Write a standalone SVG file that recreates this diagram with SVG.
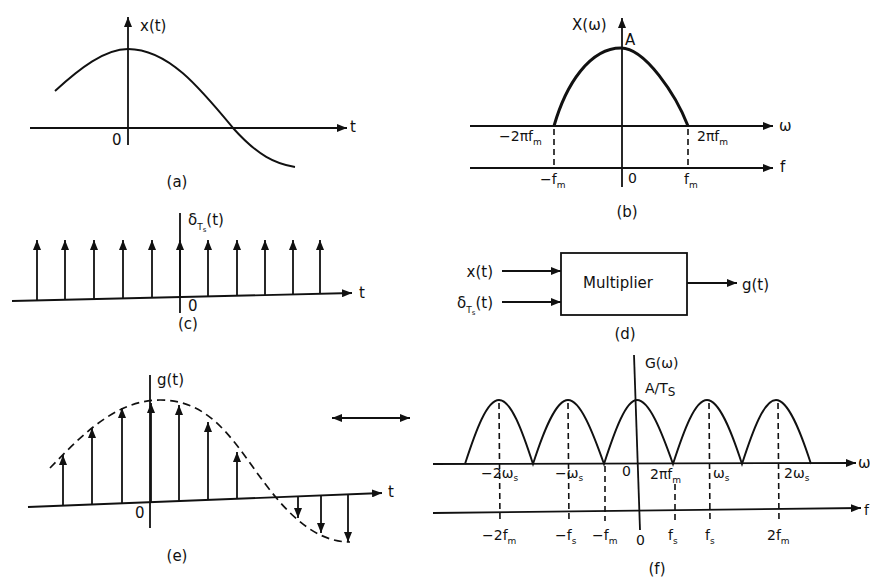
<svg xmlns="http://www.w3.org/2000/svg" width="870" height="577" viewBox="0 0 870 577">
<style>
text{font-family:"DejaVu Sans","Liberation Sans",sans-serif;font-size:15px;fill:#111}
.sm{font-size:14px}
.sub{font-size:9px}
.ax{stroke:#111;stroke-width:1.8;fill:none}
.arw{stroke:#111;stroke-width:1.8;fill:none;marker-end:url(#ah)}
.cv{stroke:#111;stroke-width:1.9;fill:none}
.dash{stroke:#111;stroke-width:1.6;fill:none;stroke-dasharray:6,4}
.dash2{stroke:#111;stroke-width:1.7;fill:none;stroke-dasharray:8,5}
.mid{text-anchor:middle}
.end{text-anchor:end}
</style>
<defs>
<marker id="ah" viewBox="0 0 10 8" refX="10" refY="4" markerWidth="10" markerHeight="8" markerUnits="userSpaceOnUse" orient="auto-start-reverse">
<path d="M0,0 L10,4 L0,8 z" fill="#111"/>
</marker>
</defs>
<rect width="870" height="577" fill="#fff"/>

<!-- (a) -->
<g id="panel-a">
<line class="arw" x1="30" y1="128" x2="347" y2="128"/>
<line class="arw" x1="128" y1="145" x2="128" y2="17"/>
<path class="cv" d="M55,91 C80,68 105,49 128,49 C168,49 200,88 233,128 C258,156 276,164 295,167"/>
<text x="140" y="31">x(t)</text>
<text x="350" y="132">t</text>
<text x="112" y="145">0</text>
<text class="mid" x="177" y="187">(a)</text>
</g>

<!-- (b) -->
<g id="panel-b">
<line class="arw" x1="470" y1="126" x2="773" y2="126"/>
<line class="arw" x1="470" y1="168" x2="773" y2="168"/>
<line class="arw" x1="622" y1="187" x2="622" y2="18"/>
<path d="M554,126 C566,84 590,48 621,48 C645,48 676,95 688,126" stroke="#111" stroke-width="3" fill="none"/>
<line class="dash" x1="554" y1="129" x2="554" y2="168"/>
<line class="dash" x1="688" y1="129" x2="688" y2="168"/>
<text x="572" y="30">X(ω)</text>
<text x="625" y="45">A</text>
<text x="779" y="131">ω</text>
<text x="780" y="172">f</text>
<text class="sm" x="499" y="141">−2πf<tspan class="sub" dy="4">m</tspan></text>
<text class="sm" x="697" y="141">2πf<tspan class="sub" dy="4">m</tspan></text>
<text class="sm" x="540" y="184">−f<tspan class="sub" dy="4">m</tspan></text>
<text class="sm" x="628" y="183">0</text>
<text class="sm" x="684" y="184">f<tspan class="sub" dy="4">m</tspan></text>
<text class="mid" x="627" y="217">(b)</text>
</g>

<!-- (c) -->
<g id="panel-c">
<line class="arw" x1="12" y1="301" x2="352" y2="293"/>
<line class="ax" x1="180" y1="213" x2="180" y2="313"/>
<line class="arw" x1="37" y1="300.4" x2="37" y2="240"/>
<line class="arw" x1="65" y1="299.8" x2="65" y2="240"/>
<line class="arw" x1="94" y1="299.1" x2="94" y2="240"/>
<line class="arw" x1="123" y1="298.4" x2="123" y2="240"/>
<line class="arw" x1="152" y1="297.7" x2="152" y2="240"/>
<line class="arw" x1="180" y1="297" x2="180" y2="240"/>
<line class="arw" x1="208" y1="296.4" x2="208" y2="240"/>
<line class="arw" x1="237" y1="295.7" x2="237" y2="240"/>
<line class="arw" x1="265" y1="295" x2="265" y2="240"/>
<line class="arw" x1="293" y1="294.4" x2="293" y2="240"/>
<line class="arw" x1="320" y1="293.8" x2="320" y2="240"/>
<text x="188" y="225">δ<tspan class="sub" dy="5">T</tspan><tspan font-size="7" dy="2">s</tspan><tspan dy="-7">(t)</tspan></text>
<text x="188" y="311">0</text>
<text x="359" y="298">t</text>
<text class="mid" x="188" y="329">(c)</text>
</g>

<!-- (d) -->
<g id="multiplier">
<rect x="561" y="253" width="126" height="62" fill="#fff" stroke="#111" stroke-width="1.8"/>
<text class="mid" x="618" y="288">Multiplier</text>
</g>
<g id="in-x">
<text class="end" x="493" y="277">x(t)</text>
</g>
<g id="in-delta">
<text class="end" x="493" y="308">δ<tspan class="sub" dy="5">T</tspan><tspan font-size="7" dy="2">s</tspan><tspan dy="-7">(t)</tspan></text>
</g>
<g id="out-g">
<text x="742" y="290">g(t)</text>
</g>
<g id="connectors">
<line class="arw" x1="502" y1="271" x2="561" y2="271"/>
<line class="arw" x1="502" y1="302" x2="561" y2="302"/>
<line class="arw" x1="687" y1="283" x2="737" y2="283"/>
</g>
<text class="mid" x="625" y="339">(d)</text>

<!-- (e) -->
<g id="panel-e">
<line class="arw" x1="28" y1="507" x2="382" y2="493"/>
<line class="ax" x1="150" y1="375" x2="150" y2="528"/>
<path class="dash2" d="M50,468 C80,437 115,400 160,400 C205,400 228,432 255,470 C280,505 310,542 350,542"/>
<line class="arw" x1="63" y1="505.6" x2="63" y2="455"/>
<line class="arw" x1="92" y1="504.5" x2="92" y2="428"/>
<line class="arw" x1="122" y1="503.3" x2="122" y2="408"/>
<line class="arw" x1="151" y1="502.1" x2="151" y2="403"/>
<line class="arw" x1="179" y1="501" x2="179" y2="405"/>
<line class="arw" x1="208" y1="499.9" x2="208" y2="422"/>
<line class="arw" x1="237" y1="498.7" x2="237" y2="452"/>
<line class="arw" x1="298" y1="496.3" x2="298" y2="518"/>
<line class="arw" x1="321" y1="495.4" x2="321" y2="533"/>
<line class="arw" x1="348" y1="494.4" x2="348" y2="542"/>
<text x="157" y="385">g(t)</text>
<text x="135" y="518">0</text>
<text x="388" y="497">t</text>
<text class="mid" x="177" y="561">(e)</text>
</g>

<!-- double arrow -->
<line x1="332" y1="418" x2="410" y2="418" stroke="#111" stroke-width="1.8" marker-start="url(#ah)" marker-end="url(#ah)"/>

<!-- (f) -->
<g id="panel-f">
<line class="arw" x1="433" y1="464" x2="856" y2="463"/>
<line class="arw" x1="433" y1="513" x2="861" y2="508"/>
<line class="ax" x1="634" y1="355" x2="640" y2="530"/>
<path class="cv" d="M465,464 C476,430 487,400 499,400 C511,400 522,430 533,464 C544,430 556,400 568,400 C580,400 592,430 604,464 C615,430 626,400 637,400 C649,400 661,430 673,464 C684,430 695,400 707,400 C719,400 731,430 742,464 C753,430 764,400 776,400 C788,400 800,430 811,464"/>
<line class="dash" x1="499" y1="403" x2="500" y2="523"/>
<line class="dash" x1="568" y1="403" x2="569" y2="523"/>
<line class="dash" x1="605" y1="466" x2="605" y2="521"/>
<line class="dash" x1="675" y1="484" x2="675" y2="521"/>
<line class="dash" x1="709" y1="403" x2="710" y2="522"/>
<line class="dash" x1="778" y1="403" x2="779" y2="522"/>
<text class="sm" x="645" y="368">G(ω)</text>
<text class="sm" x="645" y="393">A/T<tspan font-size="12" dy="3">S</tspan></text>
<text x="858" y="468" font-size="12">ω</text>
<text class="sm" x="864" y="515">f</text>
<text class="sm" x="481" y="478">−2ω<tspan class="sub" dy="3">s</tspan></text>
<text class="sm" x="555" y="478">−ω<tspan class="sub" dy="3">s</tspan></text>
<text class="sm" x="622" y="476">0</text>
<text class="sm" x="650" y="479">2πf<tspan class="sub" dy="4">m</tspan></text>
<text class="sm" x="713" y="478">ω<tspan class="sub" dy="3">s</tspan></text>
<text class="sm" x="784" y="478">2ω<tspan class="sub" dy="3">s</tspan></text>
<text class="sm" x="482" y="540">−2f<tspan class="sub" dy="4">m</tspan></text>
<text class="sm" x="555" y="540">−f<tspan class="sub" dy="4">s</tspan></text>
<text class="sm" x="592" y="540">−f<tspan class="sub" dy="4">m</tspan></text>
<text class="sm" x="636" y="545">0</text>
<text class="sm" x="668" y="540">f<tspan class="sub" dy="4">s</tspan></text>
<text class="sm" x="705" y="540">f<tspan class="sub" dy="4">s</tspan></text>
<text class="sm" x="767" y="540">2f<tspan class="sub" dy="4">m</tspan></text>
<text class="mid" x="657" y="574">(f)</text>
</g>
</svg>
